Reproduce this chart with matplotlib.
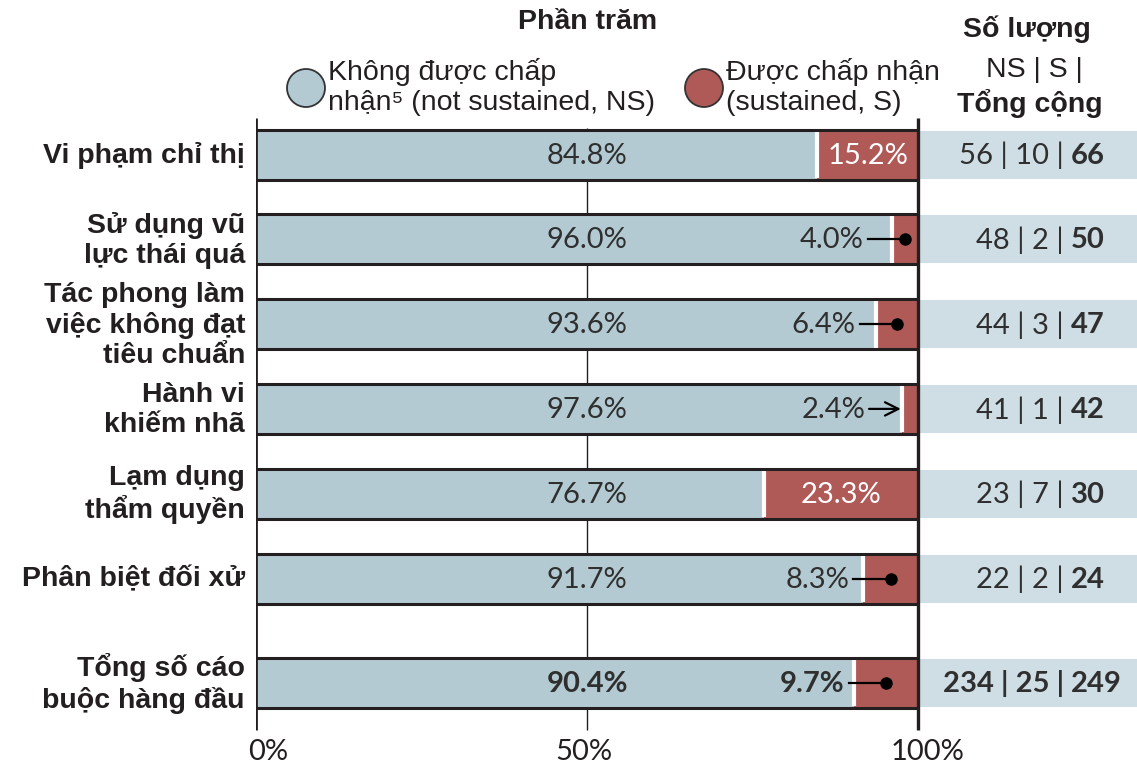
import matplotlib
matplotlib.use("Agg")
import matplotlib.pyplot as plt
from matplotlib.patches import Ellipse

# ---------------- data ----------------
categories = ["Vi phạm chỉ thị", "Sử dụng vũ\nlực thái quá",
              "Tác phong làm\nviệc không đạt\ntiêu chuẩn", "Hành vi\nkhiếm nhã",
              "Lạm dụng\nthẩm quyền", "Phân biệt đối xử", "Tổng số cáo\nbuộc hàng đầu"]
ns_pct = [84.8, 96.0, 93.6, 97.6, 76.7, 91.7, 90.4]
s_pct = [15.2, 4.0, 6.4, 2.4, 23.3, 8.3, 9.7]
ns_count = [56, 48, 44, 41, 23, 22, 234]
s_count = [10, 2, 3, 1, 7, 2, 25]
total_count = [66, 50, 47, 42, 30, 24, 249]
x_ticks = [0, 50, 100]
x_tick_labels = ["0%", "50%", "100%"]

# ---------------- style ----------------
W, H = 1137, 768
X0, X100 = 256, 918
PXU = (X100 - X0) / 100.0
NS_C = "#b4cad2"
S_C = "#b05a58"
BOX_C = "#cfdde4"
INK = "#231f20"
NUM_C = "#2f2f2f"
NUM_FONT = ["Lato", "DejaVu Sans"]
LAB_FONT = ["Liberation Sans", "DejaVu Sans"]
NUM_FS = 21
LAB_FS = 20.5
tick_offsets = [1.8, -0.5, 1.5]

row_y = [154.5 + 84.8 * i for i in range(6)] + [682.5]
bar_h = 50

fig = plt.figure(figsize=(W / 100, H / 100), dpi=100)
ax = fig.add_axes([X0 / W, 0, 1 - X0 / W, 1])
ax.set_xlim(0, (W - X0) / PXU)
ax.set_ylim(H, 0)
ax.axis("off")

def fx(px):
    return px / W

def fy(py):
    return 1 - py / H

# gridline 50%
ax.vlines(50, 128, 730, color=INK, lw=1.0, zorder=1)

# bars
ax.barh(row_y, ns_pct, height=bar_h, color=NS_C, edgecolor="none", zorder=2)
s_left = [100 - s for s in s_pct]
ax.barh(row_y, s_pct, left=s_left, height=bar_h, color=S_C, edgecolor="none", zorder=2)
for y, sl in zip(row_y, s_left):
    ax.vlines(sl, y - bar_h / 2 + 1.5, y + bar_h / 2 - 1.5, color="white", lw=3.0, zorder=3)
    ax.hlines([y - bar_h / 2, y + bar_h / 2], 0, 100, color=INK, lw=2.2, zorder=4)

# axis lines
ax.vlines(0, 118, 730, color=INK, lw=2.0, zorder=5)
ax.vlines(100, 118, 730, color=INK, lw=2.4, zorder=5)

# right panel boxes
box_left = (920 - X0) / PXU
box_w = (W - 920) / PXU + 1
ax.barh(row_y, [box_w] * len(row_y), left=box_left, height=48, color=BOX_C,
        edgecolor="none", zorder=1, clip_on=False)

n = len(categories)
for i in range(n):
    y = row_y[i]
    bold = (i == n - 1)
    fw = "bold" if bold else "normal"
    # category label
    ax.text(-11 / PXU, y + 1, categories[i], ha="right", va="center", multialignment="right",
            fontsize=LAB_FS, fontweight="bold", color=INK, family=LAB_FONT, linespacing=1.2)
    # NS label
    ax.text(50, y + 1, f"{ns_pct[i]:.1f}%", ha="center", va="center", fontsize=NUM_FS,
            fontweight=fw, color=NUM_C, family=NUM_FONT, zorder=6)
    s = s_pct[i]
    seg_c = 100 - s / 2
    if s >= 12:
        ax.text(seg_c, y + 1, f"{s:.1f}%", ha="center", va="center", fontsize=NUM_FS,
                color="white", family=NUM_FONT, zorder=6)
    elif s >= 3:
        tx = seg_c - 6.2
        ax.text(tx, y + 1, f"{s:.1f}%", ha="right", va="center", fontsize=NUM_FS,
                fontweight=fw, color=NUM_C, family=NUM_FONT, zorder=6)
        ax.plot([tx + 0.6, seg_c], [y, y], color="black", lw=1.6, zorder=6)
        ax.plot([seg_c], [y], "o", color="black", ms=8, zorder=7)
    else:
        tx = 100 - s - 5.6
        ax.text(tx, y + 1, f"{s:.1f}%", ha="right", va="center", fontsize=NUM_FS,
                fontweight=fw, color=NUM_C, family=NUM_FONT, zorder=6)
        ax.annotate("", xy=(100 - s - 0.2, y), xytext=(tx + 0.6, y),
                    arrowprops=dict(arrowstyle="->", color="black", lw=1.6,
                                    mutation_scale=24, shrinkA=0, shrinkB=0), zorder=7)
    # right counts
    split_x = (1064 - X0) / PXU
    ax.text(split_x, y + 1, f"{ns_count[i]} | {s_count[i]} |", ha="right", va="center",
            fontsize=NUM_FS, fontweight=fw, color=NUM_C, family=NUM_FONT)
    ax.text(split_x + 1.0, y + 1, f"{total_count[i]}", ha="left", va="center",
            fontsize=NUM_FS, fontweight="bold", color=NUM_C, family=NUM_FONT)

# x tick labels
for t, lab, off in zip(x_ticks, x_tick_labels, tick_offsets):
    ax.text(t + off, 752, lab, ha="center", va="center", fontsize=NUM_FS,
            color=INK, family=NUM_FONT)

# header
fig.text(fx(588), fy(22), "Phần trăm", ha="center", va="center", fontsize=LAB_FS,
         fontweight="bold", color=INK, family=LAB_FONT)
fig.text(fx(1027), fy(29), "Số lượng", ha="center", va="center", fontsize=LAB_FS,
         fontweight="bold", color=INK, family=LAB_FONT)
fig.text(fx(1034), fy(70), "NS | S |", ha="center", va="center", fontsize=LAB_FS,
         color=INK, family=LAB_FONT)
fig.text(fx(1030), fy(104), "Tổng cộng", ha="center", va="center", fontsize=LAB_FS,
         fontweight="bold", color=INK, family=LAB_FONT)

# legend
for cx, col, txt, tx in [(306, NS_C, "Không được chấp\nnhận⁵ (not sustained, NS)", 328),
                         (704, S_C, "Được chấp nhận\n(sustained, S)", 726)]:
    fig.add_artist(Ellipse((fx(cx), fy(88)), 38 / W, 38 / H, transform=fig.transFigure,
                           facecolor=col, edgecolor="#333333", lw=1.3))
    fig.text(fx(tx), fy(87), txt, ha="left", va="center", fontsize=LAB_FS, color=INK,
             family=LAB_FONT, linespacing=1.22)

fig.savefig("out.png", dpi=100)
